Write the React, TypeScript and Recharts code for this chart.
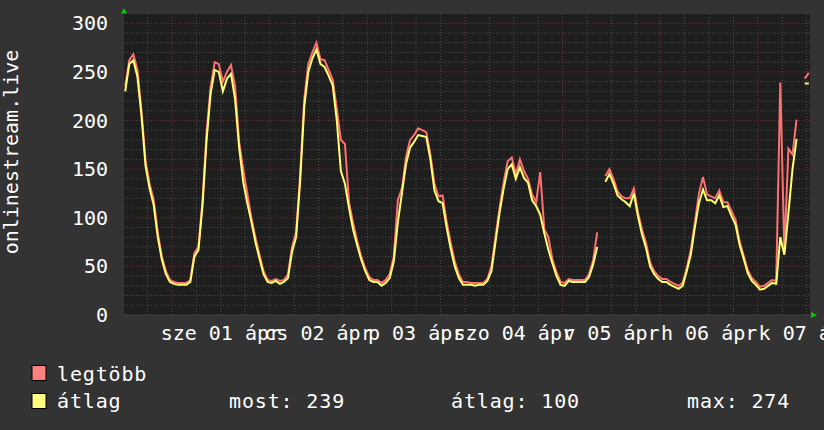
import React from 'react';
import { LineChart, Line, XAxis, YAxis, CartesianGrid, ReferenceLine } from 'recharts';

document.body.style.margin = '0';

// one sample per hour, hours counted from 31 March 00:00
const firstHour = 12.5;

const legtobb = [
  235, 262, 268, 252, 210, 158, 135, 118, 85, 60,
  45, 36, 34, 33, 33, 33, 36, 64, 70, 118,
  188, 235, 260, 258, 240, 250, 257, 235, 178, 150,
  125, 100, 80, 62, 45, 36, 35, 37, 35, 36,
  42, 70, 85, 145, 222, 258, 270, 280, 263, 262,
  252, 242, 212, 180, 176, 116, 95, 76, 60, 48,
  39, 36, 36, 33, 36, 42, 60, 118, 130, 162,
  180, 185, 192, 190, 188, 165, 135, 122, 123, 96,
  74, 55, 42, 34, 34, 33, 33, 33, 33, 37,
  50, 80, 110, 136, 158, 162, 145, 160, 148, 140,
  124, 116, 147, 88, 80, 57, 44, 34, 33, 37,
  36, 36, 36, 36, 42, 56, 85, null, 143, 150,
  140, 127, 122, 120, 120, 130, 106, 88, 74, 54,
  45, 40, 37, 37, 34, 32, 30, 33, 48, 67,
  95, 125, 142, 124, 122, 120, 128, 116, 116, 107,
  98, 76, 61, 46, 38, 34, 29, 30, 33, 36,
  35, 239, 65, 171, 165, 201, null, 243, 249,
];

const atlag = [
  230, 258, 262, 245, 205, 153, 130, 113, 80, 57,
  42, 34, 32, 31, 31, 31, 34, 60, 67, 113,
  180, 228, 252, 250, 230, 243, 248, 222, 172, 137,
  115, 96, 75, 58, 42, 34, 33, 35, 32, 34,
  38, 65, 80, 138, 214, 250, 264, 273, 258, 255,
  246, 236, 200, 148, 135, 110, 88, 72, 57, 45,
  36, 34, 34, 30, 33, 38, 55, 95, 125, 155,
  172, 178, 185, 184, 183, 160, 128, 117, 115, 90,
  68, 50, 38, 31, 31, 31, 30, 31, 31, 35,
  45, 75, 105, 130, 150, 155, 140, 152, 141, 136,
  118, 112, 103, 84, 67, 53, 40, 31, 30, 35,
  34, 34, 34, 34, 39, 52, 70, null, 137, 145,
  135, 123, 119, 116, 112, 125, 102, 83, 69, 50,
  42, 37, 34, 34, 31, 29, 27, 30, 45, 62,
  90, 115, 129, 118, 118, 115, 123, 111, 112, 102,
  93, 72, 58, 43, 35, 31, 26, 27, 30, 33,
  32, 80, 62, 105, 150, 181, null, 238, 238,
];

const dayTicks = [36, 60, 84, 108, 132, 156, 180];
const dayLabels = ['sze 01 ápr', 'cs 02 ápr', 'p 03 ápr', 'szo 04 ápr', 'v 05 ápr', 'h 06 ápr', 'k 07 ápr'];
const yTicks = [0, 50, 100, 150, 200, 250, 300];
const unitLabel = 'onlinestream.live';
const stats = { most: 239, atlag: 100, max: 274 };

const data = atlag.map((v, i) => ({ t: firstHour + i, atlag: v, legtobb: legtobb[i] }));

const minorY: number[] = [];
for (let v = 10; v <= 300; v += 10) if (v % 50 !== 0) minorY.push(v);
const majorY = yTicks.slice(1);
const minorX: number[] = [];
for (let h = 18; h <= 180; h += 6) if (h % 24 !== 0) minorX.push(h);
const majorX = [24, 48, 72, 96, 120, 144, 168];

const FONT = "'DejaVu Sans Mono', monospace";
const MINOR = '#4e4e4e';
const MAJOR = '#7a3434';

const DayTick = (props: any) => {
  const { x, y, index } = props;
  return (
    <text x={x} y={y + 23} textAnchor="middle" fill="#ffffff" fontSize={20} fontFamily={FONT}>
      {dayLabels[index]}
    </text>
  );
};

export default function App() {
  return (
    <div style={{ position: 'relative', width: 824, height: 430, background: '#333333' }}>
      <LineChart width={824} height={430} data={data} margin={{ top: 14, right: 14, bottom: 85, left: 64 }}>
        <CartesianGrid fill="#1e1e1e" horizontal={false} vertical={false} />
        {minorY.map((v) => (
          <ReferenceLine key={`my${v}`} y={v} stroke={MINOR} strokeDasharray="1 2" />
        ))}
        {minorX.map((h) => (
          <ReferenceLine key={`mx${h}`} x={h} stroke={MINOR} strokeDasharray="1 2" />
        ))}
        {majorY.map((v) => (
          <ReferenceLine key={`Y${v}`} y={v} stroke={MAJOR} strokeDasharray="1 2" />
        ))}
        {majorX.map((h) => (
          <ReferenceLine key={`X${h}`} x={h} stroke={MAJOR} strokeDasharray="1 2" />
        ))}
        <XAxis
          dataKey="t"
          type="number"
          domain={[12.2, 180.8]}
          allowDataOverflow
          ticks={dayTicks}
          interval={0}
          tickLine={false}
          tickSize={0}
          height={30}
          axisLine={{ stroke: '#444444' }}
          tick={<DayTick />}
        />
        <YAxis
          type="number"
          domain={[0, 309.5]}
          allowDataOverflow
          ticks={yTicks}
          interval={0}
          width={60}
          tickLine={false}
          tickSize={0}
          tickMargin={16}
          axisLine={false}
          tick={{ fill: '#ffffff', fontSize: 20, fontFamily: FONT }}
        />
        <Line
          type="linear"
          dataKey="legtobb"
          stroke="#ff7070"
          strokeWidth={2}
          dot={false}
          activeDot={false}
          isAnimationActive={false}
        />
        <Line
          type="linear"
          dataKey="atlag"
          stroke="#ffff70"
          strokeWidth={2}
          dot={false}
          activeDot={false}
          isAnimationActive={false}
        />
      </LineChart>
      <svg
        width={824}
        height={430}
        style={{ position: 'absolute', left: 0, top: 0, pointerEvents: 'none' }}
        fontFamily={FONT}
      >
        <text x={18} y={152} transform="rotate(-90 18 152)" textAnchor="middle" fill="#ffffff" fontSize={20}>
          {unitLabel}
        </text>
        <polygon points="121,13.5 127,13.5 124,8" fill="#00cc00" />
        <polygon points="811,312 811,318 817,315" fill="#00cc00" />
        <rect x={32} y={365.5} width={14} height={15} fill="#ff8080" stroke="#000000" />
        <rect x={32} y={393.5} width={14} height={15} fill="#ffff80" stroke="#000000" />
        <g fill="#ffffff" fontSize={20} letterSpacing={0.85}>
          <text x={57} y={381}>legtöbb</text>
          <text x={57} y={408}>átlag</text>
          <text x={229} y={408}>most: {stats.most}</text>
          <text x={451} y={408}>átlag: {stats.atlag}</text>
          <text x={687} y={408}>max: {stats.max}</text>
        </g>
      </svg>
    </div>
  );
}
